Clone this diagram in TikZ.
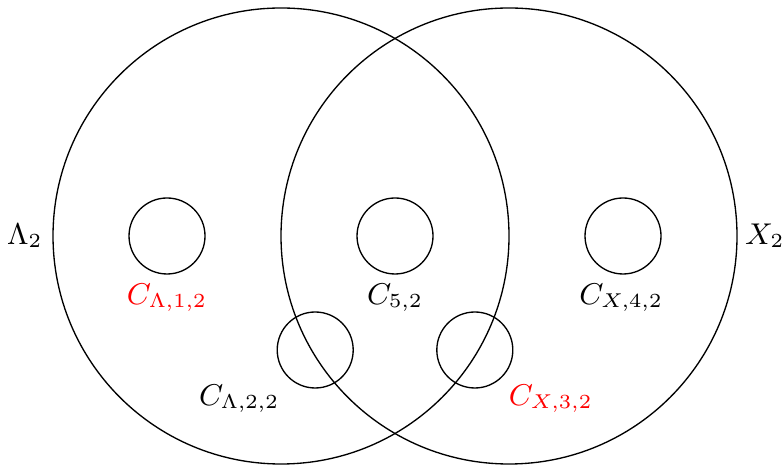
\documentclass[tikz,border=0pt]{standalone}
\usepackage{amsmath}
\usepackage{tikz}
\usetikzlibrary{positioning}
\definecolor{hilite}{RGB}{255,0,0}

\begin{document}
\begin{tikzpicture}[
  x=0.4cm, y=0.4cm,
  font=\small,
  bigset/.style={circle, draw=black, line width=0.4pt, minimum size=4.8cm, inner sep=0pt},
  cell/.style={circle, draw=black, line width=0.4pt, minimum size=0.8cm, inner sep=0pt},
  setlbl/.style={font=\small},
  cellred/.style={text=hilite},
]
\useasboundingbox (-7.395,-6.026) rectangle (13.21,6.21);

% ============================================================
% the two big sets
% ============================================================
\node[bigset] (lam) at (0,0) {};
\node[bigset] (xs)  at (6,0) {};
\node[setlbl] (lamlbl) at (-6.74,0) {$\Lambda_2$};
\node[setlbl] (xslbl)  at (12.73,0) {$X_2$};

% ============================================================
% small cells
% ============================================================
\node[cell] (c1) at (-3,0) {};
\node[cell] (c5) at (3,0) {};
\node[cell] (c4) at (9,0) {};
\node[cell] (c2) at (0.9,-3) {};
\node[cell] (c3) at (5.1,-3) {};

\node[cellred] (c1lbl) at (-3,-1.62) {$C_{\Lambda,1,2}$};
\node (c5lbl) at (3,-1.62) {$C_{5,2}$};
\node (c4lbl) at (8.95,-1.62) {$C_{X,4,2}$};
\node (c2lbl) at (-1.1,-4.28) {$C_{\Lambda,2,2}$};
\node[cellred] (c3lbl) at (7.1,-4.28) {$C_{X,3,2}$};

\end{tikzpicture}
\end{document}
